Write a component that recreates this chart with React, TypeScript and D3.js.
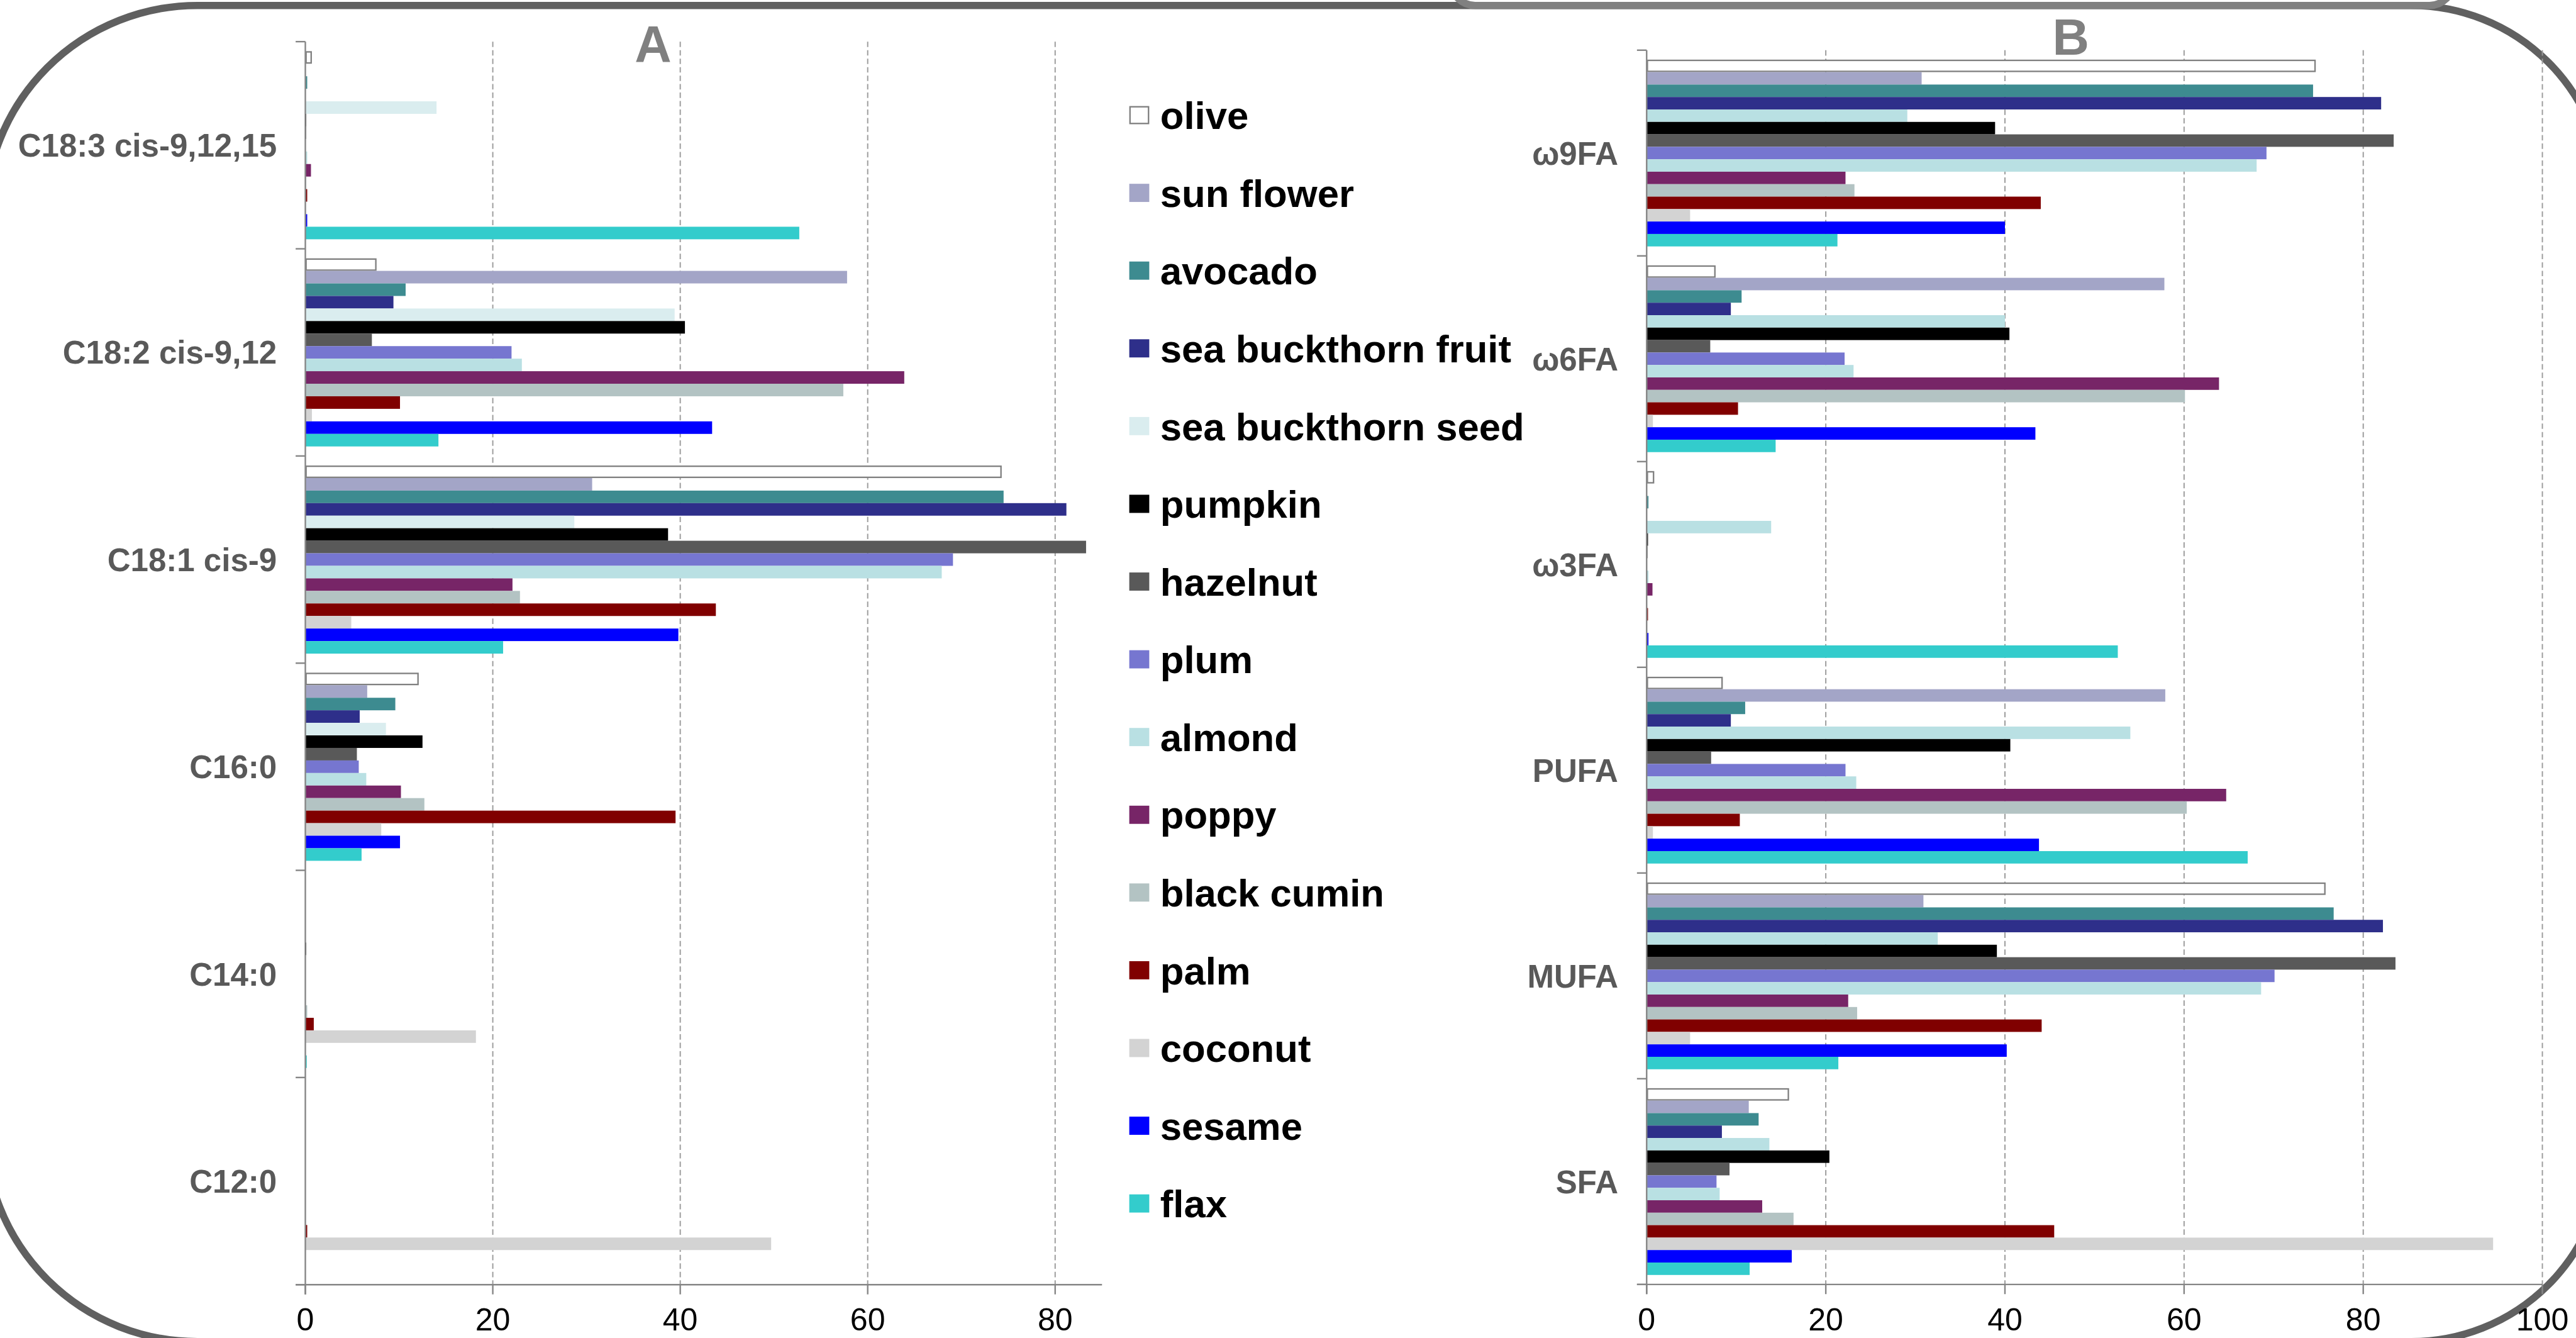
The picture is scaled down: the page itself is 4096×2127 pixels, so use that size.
import React, { useEffect } from 'react';
import * as d3 from 'd3';

// ---------- data ----------
const series = [
  'olive', 'sun flower', 'avocado', 'sea buckthorn fruit', 'sea buckthorn seed',
  'pumpkin', 'hazelnut', 'plum', 'almond', 'poppy', 'black cumin', 'palm',
  'coconut', 'sesame', 'flax',
];

const categoriesA = ['C18:3 cis-9,12,15', 'C18:2 cis-9,12', 'C18:1 cis-9', 'C16:0', 'C14:0', 'C12:0'];
const c183 = [0.7, 0, 0.2, 0, 14.0, 0.1, 0.1, 0, 0.2, 0.6, 0.1, 0.2, 0, 0.2, 52.7];
const c182 = [7.6, 57.8, 10.7, 9.4, 39.4, 40.5, 7.1, 22.0, 23.1, 63.9, 57.4, 10.1, 0.7, 43.4, 14.2];
const c181 = [74.3, 30.6, 74.5, 81.2, 28.7, 38.7, 83.3, 69.1, 67.9, 22.1, 22.9, 43.8, 4.9, 39.8, 21.1];
const c160 = [12.1, 6.6, 9.6, 5.8, 8.6, 12.5, 5.5, 5.7, 6.5, 10.2, 12.7, 39.5, 8.1, 10.1, 6.0];
const c140 = [0, 0, 0, 0, 0, 0.1, 0, 0, 0, 0, 0.2, 0.9, 18.2, 0, 0.15];
const c120 = [0, 0, 0, 0, 0, 0, 0, 0, 0, 0, 0, 0.2, 49.7, 0, 0];
const valuesA = [c183, c182, c181, c160, c140, c120];

const categoriesB = ['ω9FA', 'ω6FA', 'ω3FA', 'PUFA', 'MUFA', 'SFA'];
const w9fa = [74.7, 30.7, 74.4, 82.0, 29.1, 38.9, 83.4, 69.2, 68.1, 22.2, 23.2, 44.0, 4.85, 40.0, 21.3];
const w6fa = [7.7, 57.8, 10.6, 9.4, 40.0, 40.5, 7.1, 22.1, 23.1, 63.9, 60.1, 10.2, 0.7, 43.4, 14.4];
const w3fa = [0.85, 0, 0.2, 0, 13.9, 0.15, 0.1, 0, 0.2, 0.65, 0, 0.15, 0, 0.2, 52.6];
const pufa = [8.5, 57.9, 11.0, 9.4, 54.0, 40.6, 7.2, 22.2, 23.4, 64.7, 60.3, 10.4, 0.7, 43.8, 67.1];
const mufa = [75.8, 30.9, 76.7, 82.2, 32.5, 39.1, 83.6, 70.1, 68.6, 22.5, 23.5, 44.1, 4.85, 40.2, 21.4];
const sfa = [15.9, 11.4, 12.5, 8.4, 13.7, 20.4, 9.25, 7.8, 8.15, 12.9, 16.4, 45.5, 94.5, 16.2, 11.5];
const valuesB = [w9fa, w6fa, w3fa, pufa, mufa, sfa];

const ticksA = [0, 20, 40, 60, 80];
const ticksB = [0, 20, 40, 60, 80, 100];

// ---------- styles ----------
const colorsA = ['#FFFFFF', '#A3A5C7', '#3D8B90', '#2E2F8A', '#DAEDEF', '#000000', '#595959',
  '#7676D0', '#B9E0E3', '#772567', '#B3C3C3', '#800000', '#D3D3D3', '#0000FF', '#33CCCC'];
const colorsB = colorsA.map((c, i) => (i === 4 ? '#B9E0E3' : c));

const FONT = '"Liberation Sans", Arial, Helvetica, sans-serif';
const AXIS = '#868686';

type PanelProps = {
  cats: string[];
  vals: number[][];
  colors: string[];
  xr: [number, number];
  dom: [number, number];
  yr: [number, number];
  ticks: number[];
  label: string;
  labelX: number;
  labelY: number;
};

function Panel({ cats, vals, colors, xr, dom, yr, ticks, label, labelX, labelY }: PanelProps) {
  const x = d3.scaleLinear().domain(dom).range(xr);
  const y = d3.scaleBand<string>().domain(cats).range(yr).padding(0);
  const sub = d3.scaleBand<string>().domain(series).range([0, y.bandwidth()]).paddingInner(0).paddingOuter(0.76);
  const bounds = [...cats.map((c) => y(c) as number), yr[1]];
  const x0 = x(0);
  return (
    <g>
      {ticks.filter((t) => t > 0).map((t) => (
        <line key={'g' + t} x1={x(t)} x2={x(t)} y1={yr[0]} y2={yr[1]} stroke="#9a9a9a" strokeWidth={2} strokeDasharray="9,5" />
      ))}
      {cats.map((c, ci) =>
        series.map((s, si) => {
          const v = vals[ci][si];
          if (!v) return null;
          const by = (y(c) as number) + (sub(s) as number);
          const bh = sub.bandwidth();
          const w = x(v) - x0;
          if (si === 0) {
            return (
              <rect key={c + s} x={x0 + 1.2} y={by + 1.2} width={Math.max(w - 2.4, 0.5)} height={bh - 2.4}
                fill="#FFFFFF" stroke="#7f7f7f" strokeWidth={2.4} />
            );
          }
          return <rect key={c + s} x={x0} y={by} width={w} height={bh} fill={colors[si]} />;
        })
      )}
      <line x1={x0} x2={x0} y1={yr[0]} y2={yr[1] + 16} stroke={AXIS} strokeWidth={2.5} />
      {bounds.map((b, i) => (
        <line key={'yt' + i} x1={x0 - 16} x2={x0} y1={b} y2={b} stroke={AXIS} strokeWidth={2.5} />
      ))}
      <line x1={x0 - 16} x2={x(dom[1])} y1={yr[1]} y2={yr[1]} stroke={AXIS} strokeWidth={2.5} />
      {ticks.map((t) => (
        <line key={'xt' + t} x1={x(t)} x2={x(t)} y1={yr[1]} y2={yr[1] + 16} stroke={AXIS} strokeWidth={2.5} />
      ))}
      {ticks.map((t) => (
        <text key={'xl' + t} x={x(t)} y={2196} fontFamily={FONT} fontSize={52} textAnchor="middle" fill="#000">
          {t}
        </text>
      ))}
      {cats.map((c) => (
        <text key={'cl' + c} x={x0 - 47} y={(y(c) as number) + y.bandwidth() / 2 + 19}
          fontFamily={FONT} fontSize={53} fontWeight="bold" textAnchor="end" fill="#595959">
          {c}
        </text>
      ))}
      <text x={labelX} y={labelY} fontFamily={FONT} fontSize={84} fontWeight="bold" textAnchor="middle" fill="#808080">
        {label}
      </text>
    </g>
  );
}

function Legend() {
  const ly = d3.scaleLinear().domain([0, series.length - 1]).range([190, 1986]);
  return (
    <g>
      {series.map((s, i) => (
        <g key={s}>
          <rect x={1864 + (i === 0 ? 1.2 : 0)} y={ly(i) - 15 + (i === 0 ? 1.2 : 0)}
            width={33 - (i === 0 ? 2.4 : 0)} height={30 - (i === 0 ? 2.4 : 0)}
            fill={colorsA[i]} stroke={i === 0 ? '#7f7f7f' : 'none'} strokeWidth={2.4} />
          <text x={1915} y={ly(i) + 23} fontFamily={FONT} fontSize={64} fontWeight="bold" fill="#000">
            {s}
          </text>
        </g>
      ))}
    </g>
  );
}

function frameD(L: number, R: number, T: number, B: number, rl: number, rr: number) {
  return `M ${L + rl},${T} H ${R - rr} A ${rr},${rr} 0 0 1 ${R},${T + rr} V ${B - rr} A ${rr},${rr} 0 0 1 ${R - rr},${B} H ${L + rl} A ${rl},${rl} 0 0 1 ${L},${B - rl} V ${T + rl} A ${rl},${rl} 0 0 1 ${L + rl},${T} Z`;
}

export default function App() {
  useEffect(() => {
    document.body.style.margin = '0';
    document.body.style.overflow = 'hidden';
  }, []);
  return (
    <svg width={4096} height={2127} viewBox="0 0 4252 2208" style={{ position: 'absolute', left: 0, top: 0, display: 'block', background: '#fff' }}>
      <rect x={0} y={0} width={4252} height={2208} fill="#fff" />
      <path d={frameD(-25, 4300, 9, 2214, 351, 320)} fill="none" stroke="#606060" strokeWidth={12} />
      <rect x={2395} y={-300} width={1655} height={309} rx={40} ry={40} fill="none" stroke="#808080" strokeWidth={12} />
      <Panel cats={categoriesA} vals={valuesA} colors={colorsA} xr={[504, 1819]} dom={[0, 85]} yr={[68.7, 2120]}
        ticks={ticksA} label="A" labelX={1078} labelY={102} />
      <Panel cats={categoriesB} vals={valuesB} colors={colorsB} xr={[2718, 4196.5]} dom={[0, 100]} yr={[82.8, 2119.6]}
        ticks={ticksB} label="B" labelX={3418} labelY={90} />
      <Legend />
    </svg>
  );
}
